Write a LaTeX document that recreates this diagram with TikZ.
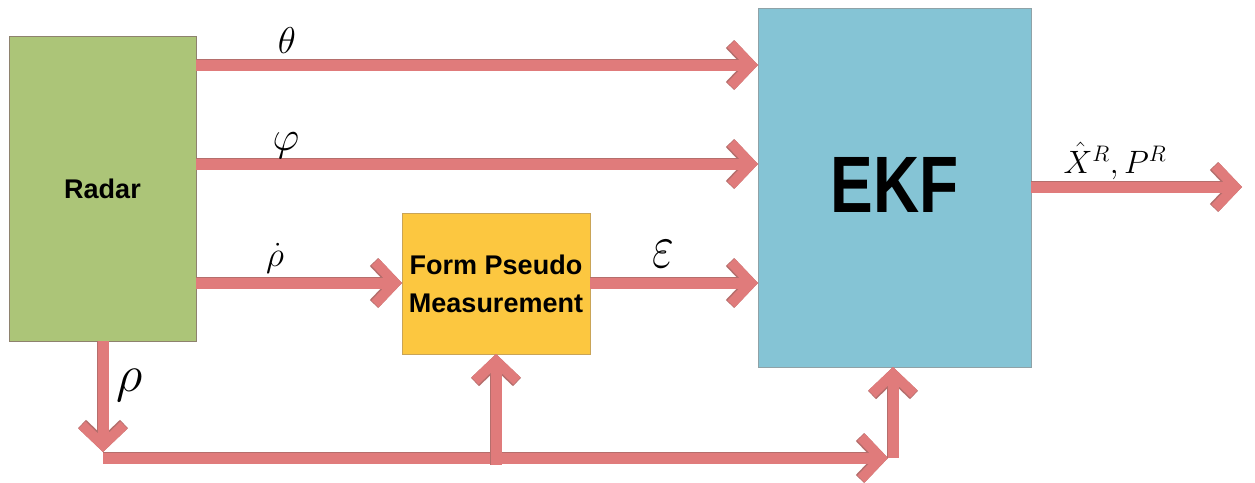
\documentclass[tikz,border=0pt]{standalone}
\usepackage{fontspec}
\setsansfont{Liberation Sans}
\usetikzlibrary{arrows.meta}
\definecolor{radarfill}{HTML}{ACC578}
\definecolor{radaredge}{HTML}{8E826E}
\definecolor{formfill}{HTML}{FCC740}
\definecolor{formedge}{HTML}{C9A457}
\definecolor{ekffill}{HTML}{85C4D5}
\definecolor{ekfedge}{HTML}{8FA2A7}
\definecolor{arrowfill}{HTML}{E07B7B}
\definecolor{arrowedge}{HTML}{B56E6C}
\tikzset{
  block/.style={draw, line width=1pt, rectangle, inner sep=0pt, outer sep=0pt, font=\sffamily\bfseries},
  flow/.style={draw=arrowfill, line width=11pt,
    -{Straight Barb[length=20pt,width=42pt,line width=10pt]},
    preaction={draw=arrowedge, line width=12.6pt,
      -{Straight Barb[length=20pt,width=42pt,line width=11.6pt]}}},
  lbl/.style={anchor=base, inner sep=0pt, font=\fontsize{24}{28}\selectfont}
}
\begin{document}
\begin{tikzpicture}[x=1pt,y=-1pt]
\useasboundingbox (0,0) rectangle (1255,482);
\node[block, fill=radarfill, draw=radaredge, minimum width=187pt, minimum height=305pt,
      font=\sffamily\bfseries\fontsize{27}{32}\selectfont] (radar) at (102.5,188.5) {Radar};
\node[block, fill=formfill, draw=formedge, minimum width=188pt, minimum height=141pt, align=center,
      font=\sffamily\bfseries\fontsize{27}{38}\selectfont] (form) at (496,283.5) {Form Pseudo\\Measurement};
\node[block, fill=ekffill, draw=ekfedge, minimum width=273pt, minimum height=359pt,
      font=\sffamily\bfseries\fontsize{80}{90}\selectfont] (ekf) at (894.5,187.5) {\raisebox{5pt}{\scalebox{0.8}[1]{EKF}}};

\coordinate (yth) at (0,65);
\coordinate (yph) at (0,164);
\coordinate (yrd) at (0,283);
\coordinate (yout) at (0,187);
\coordinate (out) at (1242,187);
\coordinate (rhotip) at (103,452);
\coordinate (busstart) at (103,458);
\coordinate (busend) at (888,458);
\coordinate (ekfup) at (893,458);
\coordinate (formup) at (496,465);

\draw[flow] (radar.east |- yth) -- (ekf.west |- yth);
\draw[flow] (radar.east |- yph) -- (ekf.west |- yph);
\draw[flow] (radar.east |- yrd) -- (form.west |- yrd);
\draw[flow] (form.east |- yrd) -- (ekf.west |- yrd);
\draw[flow] (ekf.east |- yout) -- (out);
\draw[flow] (radar.south -| rhotip) -- (rhotip);
\draw[flow] (busstart) -- (busend);
\draw[flow] (ekfup) -- (ekf.south -| ekfup);
\draw[flow] (formup) -- (form.south -| formup);

\node[lbl] (lth) at (287,53) {\scalebox{1.5}{$\theta$}};
\node[lbl] (lph) at (286,150) {\scalebox{1.67}{$\varphi$}};
\node[lbl] (lrd) at (275,266) {\scalebox{1.42}{$\dot{\rho}$}};
\node[lbl] (leps) at (663,267) {\scalebox{1.9}[2.5]{$\varepsilon$}};
\node[lbl] (lrho) at (130,391) {\scalebox{2.08}{$\rho$}};
\node[lbl] (lout) at (1115,173) {\scalebox{1.3}{$\hat{X}^{R},P^{R}$}};
\end{tikzpicture}
\end{document}
